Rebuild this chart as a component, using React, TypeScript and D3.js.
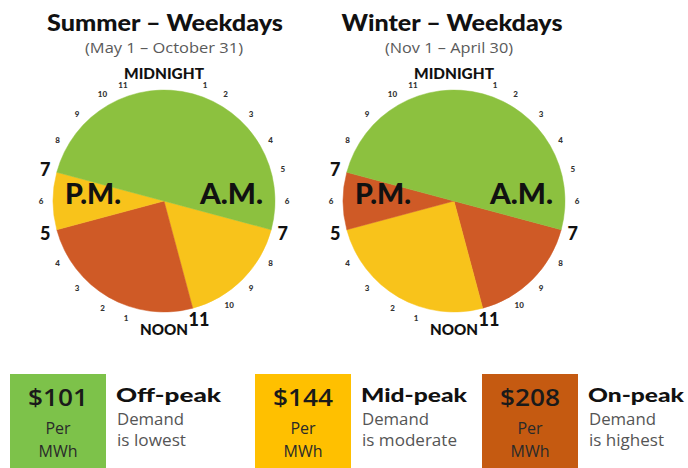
import React from "react";
import * as d3 from "d3";

// ---------- data ----------
const seasons = ["Summer – Weekdays", "Winter – Weekdays"];
const dateRanges = ["(May 1 – October 31)", "(Nov 1 – April 30)"];

// each clock starts at 7 A.M. and runs clockwise through the day
const segmentStartHour = 7;
const segmentHours = [4, 6, 2, 12]; // 7–11 AM, 11 AM–5 PM, 5–7 PM, 7 PM–7 AM
const summerTiers = ["Mid-peak", "On-peak", "Mid-peak", "Off-peak"];
const winterTiers = ["On-peak", "Mid-peak", "On-peak", "Off-peak"];

const hourLabels = [
  "MIDNIGHT", "1", "2", "3", "4", "5", "6", "7", "8", "9", "10", "11",
  "NOON", "1", "2", "3", "4", "5", "6", "7", "8", "9", "10", "11",
];
const boundaryHours = [7, 11, 17, 19];

const tiers = ["Off-peak", "Mid-peak", "On-peak"];
const prices = [101, 144, 208];
const priceUnits = ["Per", "MWh"];
const demandText = ["is lowest", "is moderate", "is highest"];

// ---------- styles / layout ----------
const W = 688;
const H = 468;
const pieColor: Record<string, string> = {
  "Off-peak": "#8cc13f",
  "Mid-peak": "#f8c31b",
  "On-peak": "#cf5a26",
};
const boxColor: Record<string, string> = {
  "Off-peak": "#7dc24a",
  "Mid-peak": "#ffc000",
  "On-peak": "#c55a11",
};
const pieCX = [164, 454];
const titleCX = [165, 452];
const titleLen = [236, 221];
const subLen = [158, 128];
const subCX = [164, 449];
const pieCY = 201;
const R = 111;
const labelR = 123;
const wordR = 128;
// small angular nudges (degrees) so labels clear MIDNIGHT / NOON
const labelNudgeDeg: Record<number, number> = { 1: 4.5, 10: -2, 11: -1.5, 13: 3, 23: -4.5 };
const legendX = [10, 255, 482];
const tierTextLen = [105, 106, 96];
const descLen = [69, 95, 75];

const heavy = "Lato, 'DejaVu Sans', sans-serif";
const light = "'Open Sans', 'Liberation Sans', sans-serif";

const angle = d3.scaleLinear().domain([0, 24]).range([0, 2 * Math.PI]);

function Clock({ idx, tierList }: { idx: number; tierList: string[] }) {
  const cx = pieCX[idx];
  const data = segmentHours.map((h, i) => ({ hours: h, tier: tierList[i] }));
  const pie = d3
    .pie<{ hours: number; tier: string }>()
    .sort(null)
    .value((d) => d.hours)
    .startAngle(angle(segmentStartHour))
    .endAngle(angle(segmentStartHour) + 2 * Math.PI);
  const arc = d3
    .arc<d3.PieArcDatum<{ hours: number; tier: string }>>()
    .innerRadius(0)
    .outerRadius(R);
  const arcs = pie(data);
  return (
    <g>
      <text
        x={titleCX[idx]}
        y={31}
        textAnchor="middle"
        fontFamily={heavy}
        fontWeight={900}
        fontSize={23}
        fill="#111"
        textLength={titleLen[idx]}
        lengthAdjust="spacingAndGlyphs"
      >
        {seasons[idx]}
      </text>
      <text
        x={subCX[idx]}
        y={53}
        textAnchor="middle"
        fontFamily={light}
        fontSize={14}
        fill="#5a5a5a"
        textLength={subLen[idx]}
        lengthAdjust="spacingAndGlyphs"
      >
        {dateRanges[idx]}
      </text>
      <g transform={`translate(${cx},${pieCY})`}>
        {arcs.map((a, i) => (
          <path
            key={i}
            d={arc(a) || ""}
            fill={pieColor[a.data.tier]}
            stroke={pieColor[a.data.tier]}
            strokeWidth={0.5}
          />
        ))}
        <text
          x={-99}
          y={3}
          fontFamily={heavy}
          fontWeight={900}
          fontSize={28}
          fill="#111"
          textLength={56}
          lengthAdjust="spacingAndGlyphs"
        >
          P.M.
        </text>
        <text
          x={99}
          y={3}
          textAnchor="end"
          fontFamily={heavy}
          fontWeight={900}
          fontSize={28}
          fill="#111"
          textLength={63}
          lengthAdjust="spacingAndGlyphs"
        >
          A.M.
        </text>
        {hourLabels.map((lab, h) => {
          const a = angle(h) + ((labelNudgeDeg[h] || 0) * Math.PI) / 180;
          const isWord = h % 12 === 0;
          const big = boundaryHours.includes(h);
          const r = isWord ? wordR : labelR;
          const x = Math.sin(a) * r;
          const y = -Math.cos(a) * r;
          return (
            <text
              key={h}
              x={x}
              y={y}
              textAnchor="middle"
              dominantBaseline="central"
              fontFamily={heavy}
              fontWeight={900}
              fontSize={isWord ? 15 : big ? 18 : 8}
              fill={big || isWord ? "#111" : "#333"}
              textLength={isWord ? (h === 0 ? 80 : 48) : undefined}
              lengthAdjust="spacingAndGlyphs"
            >
              {lab}
            </text>
          );
        })}
      </g>
    </g>
  );
}

function Legend() {
  return (
    <g>
      {tiers.map((t, i) => {
        const x = legendX[i];
        const bw = 96;
        return (
          <g key={t}>
            <rect x={x} y={374} width={bw} height={H - 374} fill={boxColor[t]} />
            <text
              x={x + bw / 2}
              y={406}
              textAnchor="middle"
              fontFamily={light}
              fontWeight={600}
              fontSize={24}
              fill="#1a1a1a"
              textLength={60}
              lengthAdjust="spacingAndGlyphs"
            >
              {`$${prices[i]}`}
            </text>
            {priceUnits.map((u, j) => (
              <text
                key={u}
                x={x + bw / 2}
                y={434 + j * 23}
                textAnchor="middle"
                fontFamily={light}
                fontSize={16}
                fill="#2a2a2a"
              >
                {u}
              </text>
            ))}
            <text
              x={x + bw + 10}
              y={402}
              fontFamily={heavy}
              fontWeight={900}
              fontSize={19}
              fill="#111"
              textLength={tierTextLen[i]}
              lengthAdjust="spacingAndGlyphs"
            >
              {t}
            </text>
            <text
              x={x + bw + 11}
              y={425}
              fontFamily={light}
              fontSize={16}
              fill="#555"
              textLength={67}
              lengthAdjust="spacingAndGlyphs"
            >
              Demand
            </text>
            <text
              x={x + bw + 11}
              y={446}
              fontFamily={light}
              fontSize={16}
              fill="#555"
              textLength={descLen[i]}
              lengthAdjust="spacingAndGlyphs"
            >
              {demandText[i]}
            </text>
          </g>
        );
      })}
    </g>
  );
}

export default function App() {
  return (
    <svg
      width={W}
      height={H}
      viewBox={`0 0 ${W} ${H}`}
      style={{ position: "absolute", left: 0, top: 0, background: "#fff" }}
    >
      <rect width={W} height={H} fill="#fff" />
      <Clock idx={0} tierList={summerTiers} />
      <Clock idx={1} tierList={winterTiers} />
      <Legend />
    </svg>
  );
}
